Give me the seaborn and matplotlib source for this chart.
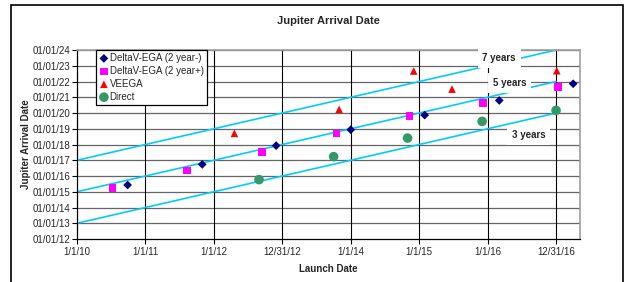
import pandas as pd
import matplotlib
matplotlib.use("Agg")
import matplotlib.pyplot as plt
import seaborn as sns
from matplotlib.patches import Rectangle

# Launch / arrival dates as decimal years
dv_minus_launch = [2010.74, 2011.83, 2012.91, 2014.00, 2015.08, 2016.17, 2017.25]
dv_minus_arrive = [2015.43, 2016.74, 2017.93, 2018.94, 2019.87, 2020.80, 2021.86]

dv_plus_launch = [2010.52, 2011.61, 2012.70, 2013.79, 2014.86, 2015.93, 2017.03]
dv_plus_arrive = [2015.22, 2016.36, 2017.54, 2018.71, 2019.83, 2020.65, 2021.65]

veega_launch = [2012.30, 2013.83, 2014.92, 2015.48, 2017.01]
veega_arrive = [2018.71, 2020.23, 2022.67, 2021.52, 2022.69]

direct_launch = [2012.66, 2013.75, 2014.83, 2015.92, 2017.00]
direct_arrive = [2015.77, 2017.23, 2018.41, 2019.47, 2020.17]

# constant trip-time guide lines
trip_years = [3, 5, 7]
guide_x = [2010, 2017]
guide_labels = ["3 years", "5 years", "7 years"]

x_ticks = [2010, 2011, 2012, 2013, 2014, 2015, 2016, 2017]
x_labels = ["1/1/10", "1/1/11", "1/1/12", "12/31/12", "1/1/14", "1/1/15", "1/1/16", "12/31/16"]
y_ticks = list(range(2012, 2025))
y_labels = ["01/01/%02d" % (y - 2000) for y in y_ticks]

sns.set_style("white")
plt.rcParams["font.family"] = ["Liberation Sans", "DejaVu Sans"]

fig = plt.figure(figsize=(6.25, 2.82), dpi=100)
ax = fig.add_axes([0.1232, 0.1525, 0.8048, 0.670])

# outer chart border
fig.patches.append(Rectangle((11 / 625, -0.1), 612 / 625, 1.1 - 5 / 282,
                             transform=fig.transFigure, fill=False,
                             edgecolor="black", linewidth=1.2))

# guide lines
for n in trip_years:
    gl = pd.DataFrame({"x": guide_x, "y": [v + n for v in guide_x]})
    sns.lineplot(data=gl, x="x", y="y", ax=ax, color="#00CCFF", linewidth=1.2, zorder=2)

series = [
    ("DeltaV-EGA (2 year-)", dv_minus_launch, dv_minus_arrive, "D", "#000080", 20),
    ("DeltaV-EGA (2 year+)", dv_plus_launch, dv_plus_arrive, "s", "#FF00FF", 30),
    ("VEEGA", veega_launch, veega_arrive, "^", "#FF0000", 30),
    ("Direct", direct_launch, direct_arrive, "o", "#339966", 48),
]
for name, xs, ys, mk, col, sz in series:
    df = pd.DataFrame({"launch": xs, "arrival": ys})
    sns.scatterplot(data=df, x="launch", y="arrival", ax=ax, marker=mk, color=col,
                    s=sz, edgecolor="none", label=name, zorder=4)

# trip-time labels with white boxes
label_pos = [(2016.60, 2018.6), (2016.32, 2021.9), (2016.17, 2023.5)]
for (lx, ly), txt in zip(label_pos, guide_labels):
    ax.text(lx, ly, txt, fontsize=7, fontweight="bold", ha="center", va="center",
            zorder=5, bbox=dict(facecolor="white", edgecolor="none",
                                boxstyle="square,pad=0.5"))

ax.set_xlim(2010, 2017.35)
ax.set_ylim(2012, 2024)
ax.set_xticks(x_ticks)
ax.set_xticklabels(x_labels, fontsize=7)
ax.set_yticks(y_ticks)
ax.set_yticklabels(y_labels, fontsize=7)
ax.tick_params(axis="both", direction="out", length=3.5, width=0.8, color="black",
               left=True, bottom=True)
ax.tick_params(axis="x", pad=2.5)
ax.tick_params(axis="y", pad=1)

ax.grid(False)
for yv in y_ticks[1:]:
    ax.axhline(yv, color="#666666", linewidth=0.9, zorder=1)
for xv in x_ticks[1:]:
    ax.axvline(xv, color="black", linewidth=0.8, zorder=1)

for side in ["left", "bottom"]:
    ax.spines[side].set_color("black")
    ax.spines[side].set_linewidth(0.9)
for side in ["top", "right"]:
    ax.spines[side].set_color("#A0A0A0")
    ax.spines[side].set_linewidth(1.2)

ax.set_title("Jupiter Arrival Date", fontsize=8, fontweight="bold", pad=19)
ax.set_xlabel("Launch Date", fontsize=7, fontweight="bold", labelpad=5)
ax.set_ylabel("Jupiter Arrival Date", fontsize=7, fontweight="bold", labelpad=1)

leg = ax.legend(loc="upper left", bbox_to_anchor=(0.038, 1.0), fontsize=7,
                frameon=True, fancybox=False, borderpad=0.3, labelspacing=0.3,
                handletextpad=0.1, handlelength=1.0, borderaxespad=0.0)
leg.get_frame().set_edgecolor("black")
leg.get_frame().set_linewidth(0.9)
leg.get_frame().set_alpha(1)

fig.savefig("out.png", dpi=100)
